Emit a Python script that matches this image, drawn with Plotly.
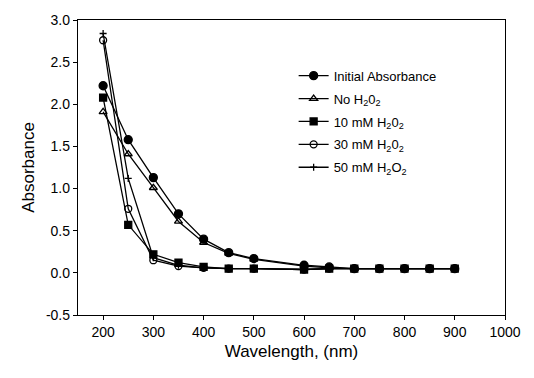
import plotly.graph_objects as go

wl = [200, 250, 300, 350, 400, 450, 500, 600, 650, 700, 750, 800, 850, 900]
initial = [2.22, 1.58, 1.13, 0.70, 0.40, 0.24, 0.17, 0.09, 0.07, 0.05, 0.05, 0.05, 0.05, 0.05]
no_h2o2 = [1.91, 1.41, 1.01, 0.61, 0.36, 0.23, 0.16, 0.08, 0.06, 0.05, 0.05, 0.05, 0.05, 0.05]
mm10 = [2.08, 0.57, 0.22, 0.12, 0.07, 0.05, 0.05, 0.04, 0.05, 0.05, 0.05, 0.05, 0.05, 0.05]
mm30 = [2.76, 0.76, 0.15, 0.08, 0.06, 0.05, 0.05, 0.04, 0.05, 0.05, 0.05, 0.05, 0.05, 0.05]
mm50 = [2.84, 1.12, 0.18, 0.09, 0.06, 0.05, 0.05, 0.04, 0.05, 0.05, 0.05, 0.05, 0.05, 0.05]

names = ["Initial Absorbance", "No H<sub>2</sub>0<sub>2</sub>", "10 mM H<sub>2</sub>0<sub>2</sub>",
         "30 mM H<sub>2</sub>0<sub>2</sub>", "50 mM H<sub>2</sub>O<sub>2</sub>"]
series = [initial, no_h2o2, mm10, mm30, mm50]
symbols = ["circle", "triangle-up-open", "square", "circle-open", "cross-thin"]
sizes = [8, 7, 7, 7, 5]

x_ticks = [200, 300, 400, 500, 600, 700, 800, 900, 1000]
y_ticks = [-0.5, 0.0, 0.5, 1.0, 1.5, 2.0, 2.5, 3.0]
y_labels = ["-0.5", "0.0", "0.5", "1.0", "1.5", "2.0", "2.5", "3.0"]

fig = go.Figure()
for i, (name, ys, sym, sz) in enumerate(zip(names, series, symbols, sizes)):
    fig.add_trace(go.Scatter(
        x=wl, y=ys, name=name, mode="lines+markers", legendgroup=f"g{i}",
        line=dict(color="black", width=1.3),
        marker=dict(symbol=sym, size=sz, color="black",
                    line=dict(color="black", width=1.3)),
    ))

font = dict(family="Liberation Sans, Arial, sans-serif", size=14, color="black")
fig.update_layout(
    width=534, height=378,
    margin=dict(l=78, r=29, t=13, b=63),
    paper_bgcolor="white", plot_bgcolor="white",
    font=font,
    showlegend=True,
    legend=dict(x=0.505, y=0.862, xanchor="left", yanchor="top",
                bgcolor="rgba(0,0,0,0)", font=dict(size=13),
                tracegroupgap=3, itemwidth=30),
    xaxis=dict(range=[150, 1000], tickvals=x_ticks,
               title=dict(text="Wavelength, (nm)", standoff=6),
               showline=True, linecolor="black", linewidth=1.3, mirror=True,
               ticks="outside", ticklen=4, tickcolor="black", showgrid=False, zeroline=False),
    yaxis=dict(range=[-0.5, 3.0], tickvals=y_ticks, ticktext=y_labels,
               title=dict(text="Absorbance", standoff=6),
               showline=True, linecolor="black", linewidth=1.3, mirror=True,
               ticks="outside", ticklen=4, tickcolor="black", showgrid=False, zeroline=False),
)
fig.write_html("out.html")
